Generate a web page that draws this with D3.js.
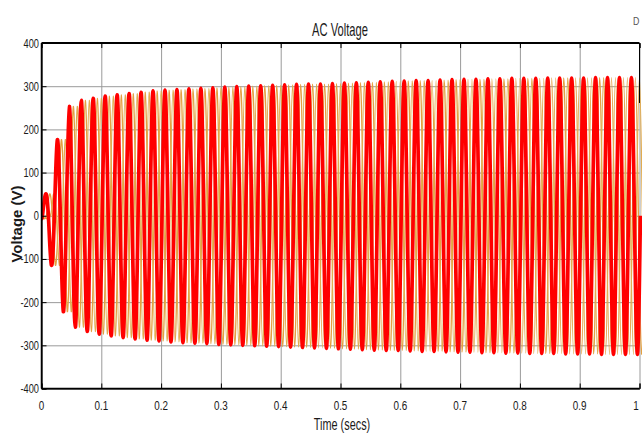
<!DOCTYPE html>
<html><head><meta charset="utf-8">
<script src="https://cdn.jsdelivr.net/npm/d3@7"></script>
<style>body{margin:0;background:#fff}svg{display:block}</style>
</head><body>
<svg id="c" width="642" height="434"></svg>
<script>
// ---- data ----
const xTicks = [0, 0.1, 0.2, 0.3, 0.4, 0.5, 0.6, 0.7, 0.8, 0.9, 1];
const yTicks = [-400, -300, -200, -100, 0, 100, 200, 300, 400];
// positive peaks of phase A, one per cycle (t = 0.0065 + 0.02k s)
const posPeaks = [49, 176, 253, 267, 272, 277, 280, 283, 286, 289,
  291, 292, 294, 295, 296, 298, 299, 300, 301, 302,
  303, 304, 305, 305, 306, 307, 308, 309, 310, 311,
  312, 313, 313, 314, 315, 316, 316, 317, 317, 318,
  318, 318, 319, 319, 319, 319, 320, 320, 320, 320];
// negative peaks of phase A, one per cycle (t = 0.0165 + 0.02k s)
const negPeaks = [-114, -222, -258, -268, -274, -278, -282, -285, -288, -290,
  -292, -294, -295, -296, -298, -299, -300, -301, -302, -303,
  -304, -305, -306, -307, -308, -309, -310, -311, -312, -312,
  -313, -314, -314, -315, -316, -316, -317, -317, -318, -318,
  -319, -319, -319, -320, -320, -320, -321, -321, -321, -321];
const firstPeakTime = 0.0065;   // s
const halfPeriod = 0.01;        // s (50 Hz)
const phaseLags = [0.00667, 0.01333, 0]; // s: phase B, phase C, phase A

// ---- layout ----
const m = {l: 41.5, r: 639.5, t: 43, b: 388.5};
const svg = d3.select('#c');
const x = d3.scaleLinear().domain([0, 1]).range([m.l, m.r]);
const y = d3.scaleLinear().domain([-400, 400]).range([m.b, m.t]);

function phasePoints(lag) {
  const pts = [{t: 0, v: 0}];
  const n = posPeaks.length + negPeaks.length;
  for (let j = 0; j < n; j++) {
    const te = firstPeakTime + lag + halfPeriod * j;
    const v = j % 2 === 0 ? posPeaks[j / 2] : negPeaks[(j - 1) / 2];
    pts.push({t: te - halfPeriod / 2, v: 0});
    pts.push({t: te, v: v});
  }
  const last = pts[pts.length - 1].t;
  pts.push({t: last + halfPeriod / 2, v: 0});
  return pts;
}

// grid
const gGrid = svg.append('g');
gGrid.append('g').attr('transform', `translate(0,${m.b})`)
  .call(d3.axisBottom(x).tickValues(xTicks).tickSize(-(m.b - m.t)).tickFormat(''))
  .call(g => g.select('.domain').remove())
  .call(g => g.selectAll('line').attr('stroke', '#9a9a9a').attr('stroke-width', 1));
gGrid.append('g').attr('transform', `translate(${m.l},0)`)
  .call(d3.axisLeft(y).tickValues(yTicks).tickSize(-(m.r - m.l)).tickFormat(''))
  .call(g => g.select('.domain').remove())
  .call(g => g.selectAll('line').attr('stroke', '#9a9a9a').attr('stroke-width', 1));

svg.append('clipPath').attr('id', 'clip').append('rect')
  .attr('x', m.l).attr('y', m.t).attr('width', m.r - m.l + 3).attr('height', m.b - m.t);

const line = d3.line().x(d => x(d.t)).y(d => y(d.v)).curve(d3.curveNatural);
const gData = svg.append('g').attr('clip-path', 'url(#clip)');
const colors = ['#e4a040', '#e2ac50', '#ff0000'];
const widths = [1.3, 1.3, 3.7];
phaseLags.forEach((lag, i) => {
  gData.append('path').datum(phasePoints(lag))
    .attr('d', line).attr('fill', 'none')
    .attr('stroke', colors[i]).attr('stroke-width', widths[i])
    .attr('stroke-linejoin', 'round');
});

// frame + inward ticks
const frame = svg.append('g');
frame.append('g').attr('transform', `translate(0,${m.b})`)
  .call(d3.axisBottom(x).tickValues(xTicks).tickSize(-5).tickFormat(''))
  .call(g => g.selectAll('path,line').attr('stroke', '#000'));
frame.append('g').attr('transform', `translate(0,${m.t})`)
  .call(d3.axisTop(x).tickValues(xTicks).tickSize(-5).tickFormat(''))
  .call(g => g.selectAll('path,line').attr('stroke', '#000'));
frame.append('g').attr('transform', `translate(${m.l},0)`)
  .call(d3.axisLeft(y).tickValues(yTicks).tickSize(-5).tickFormat(''))
  .call(g => g.selectAll('path,line').attr('stroke', '#000'));
frame.append('line').attr('x1', m.l).attr('x2', m.r).attr('y1', m.t).attr('y2', m.t)
  .attr('stroke', '#000').attr('stroke-width', 2);
frame.append('line').attr('x1', m.l).attr('x2', m.r).attr('y1', m.b).attr('y2', m.b)
  .attr('stroke', '#000').attr('stroke-width', 1.5);
frame.append('line').attr('x1', m.l).attr('x2', m.l).attr('y1', m.t).attr('y2', m.b)
  .attr('stroke', '#000').attr('stroke-width', 1.5);
frame.append('line').attr('x1', m.r).attr('x2', m.r).attr('y1', m.t).attr('y2', m.t + 60)
  .attr('stroke', '#000').attr('stroke-width', 1);

// text
const font = 'Liberation Sans, Arial, sans-serif';
function sText(px, py, str, size, sx, anchor, weight) {
  return svg.append('text')
    .attr('transform', `translate(${px},${py}) scale(${sx},1)`)
    .attr('text-anchor', anchor).attr('font-family', font)
    .attr('font-size', size).attr('font-weight', weight || 'normal')
    .attr('fill', '#1a1a1a').text(str);
}
xTicks.forEach(v => sText(Math.min(x(v), 636), 409.5, String(v), 13, 0.76, 'middle'));
yTicks.forEach(v => sText(39, y(v) + 4.5, String(v), 12.5, 0.74, 'end'));

sText(340, 36, 'AC Voltage', 18, 0.62, 'middle');
sText(342, 430, 'Time (secs)', 16.5, 0.66, 'middle');
svg.append('text')
  .attr('transform', `translate(21.5,224) rotate(-90)`)
  .attr('text-anchor', 'middle').attr('font-family', font)
  .attr('font-size', 15).attr('font-weight', 'bold').attr('fill', '#1a1a1a')
  .text('Voltage (V)');
sText(633, 25, 'D', 11, 0.8, 'start').attr('fill', '#555');
</script>
</body></html>
